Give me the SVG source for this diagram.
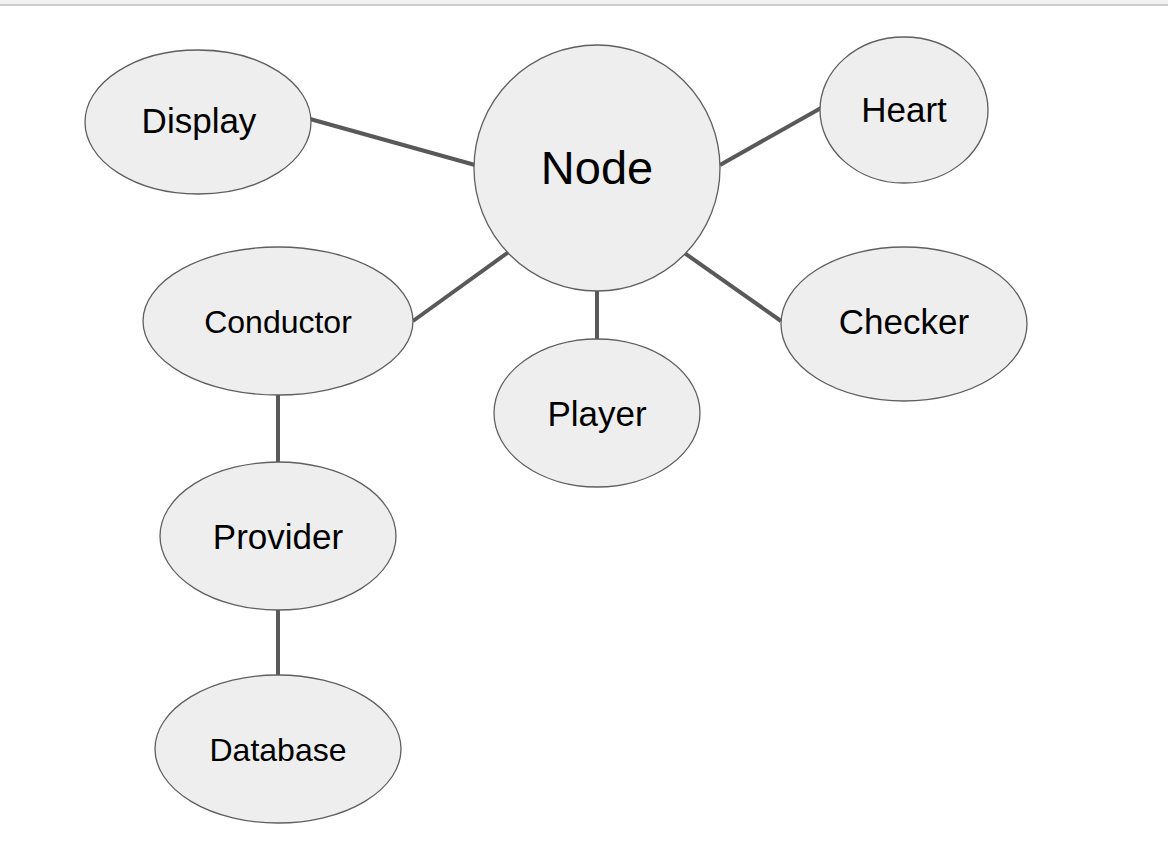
<svg xmlns="http://www.w3.org/2000/svg" width="1168" height="852" viewBox="0 0 1168 852">
<style>
.n{fill:#eeeeee;stroke:#5f5f5f;stroke-width:1.3}
.t{font-family:"Liberation Sans",Arial,sans-serif;fill:#000;text-anchor:middle;font-size:35px}
.c line{stroke:#595959;stroke-width:4}
</style>
<rect x="0" y="0" width="1168" height="852" fill="#ffffff"/>
<rect x="0" y="0" width="1168" height="4" fill="#f1f1f2"/>
<rect x="0" y="4" width="1168" height="2" fill="#cccccc"/>
<g class="c" id="connectors">
<line x1="310" y1="119" x2="475" y2="165"/>
<line x1="720" y1="165" x2="821" y2="108"/>
<line x1="510" y1="251" x2="413" y2="321"/>
<line x1="683" y1="252" x2="781" y2="321"/>
<line x1="597" y1="286" x2="597" y2="340"/>
<line x1="278" y1="395" x2="278" y2="462"/>
<line x1="278" y1="610" x2="278" y2="675"/>
</g>
<g id="display"><ellipse class="n" cx="198" cy="122" rx="113" ry="72"/><text class="t" x="199" y="133">Display</text></g>
<g id="node"><circle class="n" cx="597" cy="168" r="123"/><text class="t" x="597" y="184" style="font-size:47px">Node</text></g>
<g id="heart"><ellipse class="n" cx="904" cy="110" rx="84" ry="73"/><text class="t" x="904" y="122">Heart</text></g>
<g id="conductor"><ellipse class="n" cx="278" cy="321" rx="135" ry="74"/><text class="t" x="278" y="333" style="font-size:32px">Conductor</text></g>
<g id="checker"><ellipse class="n" cx="904" cy="324" rx="123" ry="77"/><text class="t" x="904" y="334">Checker</text></g>
<g id="player"><ellipse class="n" cx="597" cy="413" rx="103" ry="74"/><text class="t" x="597" y="426">Player</text></g>
<g id="provider"><ellipse class="n" cx="278" cy="536" rx="118" ry="74"/><text class="t" x="278" y="549">Provider</text></g>
<g id="database"><ellipse class="n" cx="278" cy="749" rx="123" ry="74"/><text class="t" x="278" y="761" style="font-size:32px">Database</text></g>
</svg>
